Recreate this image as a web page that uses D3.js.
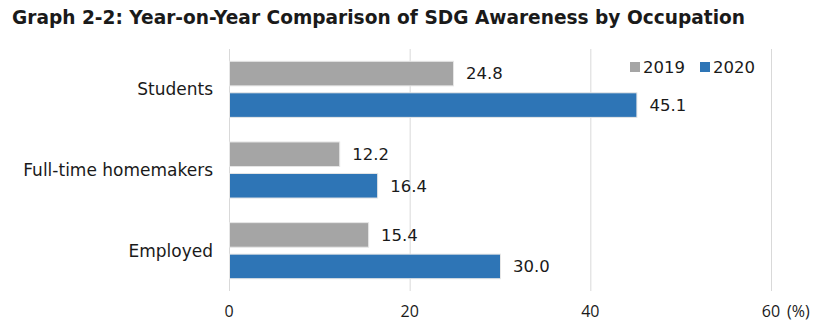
<!DOCTYPE html>
<html>
<head>
<meta charset="utf-8">
<script src="https://cdn.jsdelivr.net/npm/d3@7"></script>
<style>
  body { margin: 0; background: #fff; }
  svg text { fill: #1a1a1a; }
</style>
</head>
<body>
<div id="chart"></div>
<script>
var categories = ["Students", "Full-time homemakers", "Employed"];
var years = ["2019", "2020"];
var values2019 = [24.8, 12.2, 15.4];
var values2020 = [45.1, 16.4, 30.0];
var tickValues = [0, 20, 40, 60];

var colors = { "2019": "#a5a5a5", "2020": "#2e75b6" };
var labelFont = "Verdana, 'DejaVu Sans', sans-serif";

var w = 833, h = 335;
var svg = d3.select("#chart").append("svg")
    .attr("width", w).attr("height", h);

// title
svg.append("text")
    .attr("x", 12).attr("y", 24)
    .style("font-family", labelFont)
    .style("font-weight", "bold")
    .style("font-size", "19px")
    .attr("textLength", 733)
    .attr("lengthAdjust", "spacingAndGlyphs")
    .text("Graph 2-2: Year-on-Year Comparison of SDG Awareness by Occupation");

var x = d3.scaleLinear().domain([0, 60]).range([229, 771]);
var y = d3.scaleBand().domain(categories).range([49, 291]);
var inner = d3.scaleBand().domain(years)
    .range([0, y.bandwidth()]).paddingInner(0.22).paddingOuter(0.39);

// gridlines
svg.append("g").selectAll("line")
    .data(tickValues)
    .join("line")
    .attr("x1", function(d) { return x(d) + 0.5; })
    .attr("x2", function(d) { return x(d) + 0.5; })
    .attr("y1", 49).attr("y2", 291)
    .attr("stroke", "#d9d9d9").attr("stroke-width", 1);

// tick labels
svg.append("g").selectAll("text")
    .data(tickValues)
    .join("text")
    .attr("x", function(d) { return x(d); })
    .attr("y", 317)
    .attr("text-anchor", "middle")
    .style("font-family", "'Open Sans', sans-serif")
    .style("font-size", "16px")
    .text(function(d) { return d; });

svg.append("text")
    .attr("x", x(60) + 16).attr("y", 317)
    .style("font-family", "'Open Sans', sans-serif")
    .style("font-size", "16px")
    .text("(%)");

var rows = [];
categories.forEach(function(c, i) {
  rows.push({ cat: c, year: "2019", value: values2019[i] });
  rows.push({ cat: c, year: "2020", value: values2020[i] });
});

var bars = svg.append("g");
bars.selectAll("rect")
    .data(rows)
    .join("rect")
    .attr("x", x(0) + 0.5)
    .attr("y", function(d) { return y(d.cat) + inner(d.year); })
    .attr("width", function(d) { return x(d.value) - x(0); })
    .attr("height", inner.bandwidth())
    .attr("fill", function(d) { return colors[d.year]; })
    .attr("stroke", "#e6e6e6")
    .attr("stroke-width", 1);

// value labels
bars.selectAll("text")
    .data(rows)
    .join("text")
    .attr("x", function(d) { return x(d.value) + 13; })
    .attr("y", function(d) { return y(d.cat) + inner(d.year) + inner.bandwidth() / 2; })
    .attr("dy", "0.35em")
    .style("font-family", labelFont)
    .style("font-size", "16.5px")
    .text(function(d) { return d.value.toFixed(1); });

// category labels
svg.append("g").selectAll("text")
    .data(categories)
    .join("text")
    .attr("x", 213)
    .attr("y", function(d) { return y(d) + y.bandwidth() / 2; })
    .attr("dy", "0.35em")
    .attr("text-anchor", "end")
    .style("font-family", labelFont)
    .style("font-size", "17px")
    .text(function(d) { return d; });

// legend
var legend = svg.append("g").selectAll("g")
    .data(years)
    .join("g")
    .attr("transform", function(d, i) { return "translate(" + (630 + i * 70) + ",62)"; });
legend.append("rect")
    .attr("width", 10).attr("height", 10)
    .attr("fill", function(d) { return colors[d]; });
legend.append("text")
    .attr("x", 13).attr("y", 5)
    .attr("dy", "0.35em")
    .style("font-family", labelFont)
    .style("font-size", "16.5px")
    .text(function(d) { return d; });
</script>
</body>
</html>
